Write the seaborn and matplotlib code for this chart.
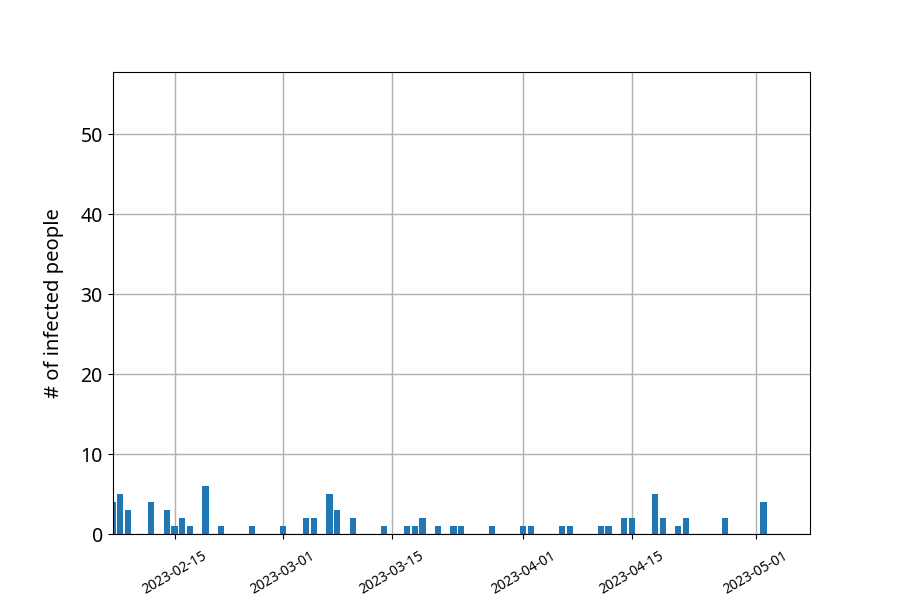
import pandas as pd
import matplotlib
matplotlib.use("Agg")
import matplotlib.pyplot as plt
import matplotlib.dates as mdates
import seaborn as sns

# daily infection counts (days with zero are left out)
dates = ['2023-02-07', '2023-02-08', '2023-02-09', '2023-02-12', '2023-02-14',
         '2023-02-15', '2023-02-16', '2023-02-17', '2023-02-19', '2023-02-21',
         '2023-02-25', '2023-03-01', '2023-03-04', '2023-03-05', '2023-03-07',
         '2023-03-08', '2023-03-10', '2023-03-14', '2023-03-17', '2023-03-18',
         '2023-03-19', '2023-03-21', '2023-03-23', '2023-03-24', '2023-03-28',
         '2023-04-01', '2023-04-02', '2023-04-06', '2023-04-07', '2023-04-11',
         '2023-04-12', '2023-04-14', '2023-04-15', '2023-04-18', '2023-04-19',
         '2023-04-21', '2023-04-22', '2023-04-27', '2023-05-02']
infected = [4, 5, 3, 4, 3,
            1, 2, 1, 6, 1,
            1, 1, 2, 2, 5,
            3, 2, 1, 1, 1,
            2, 1, 1, 1, 1,
            1, 1, 1, 1, 1,
            1, 2, 2, 5, 2,
            1, 2, 2, 4]

df = pd.DataFrame({'date': pd.to_datetime(dates), 'infected': infected})
df['day'] = mdates.date2num(df['date'])

plt.rcParams['font.family'] = ['Noto Sans', 'DejaVu Sans']

fig, ax = plt.subplots(figsize=(9, 6), dpi=100)

sns.histplot(data=df, x='day', weights='infected', discrete=True, shrink=0.8,
             color='#1f77b4', alpha=1, linewidth=0, ax=ax)

ax.set_xlim(mdates.date2num(pd.Timestamp('2023-02-07')),
            mdates.date2num(pd.Timestamp('2023-05-08')))
ax.set_ylim(0, 57.75)
ax.xaxis.set_major_locator(mdates.DayLocator(bymonthday=[1, 15]))
ax.xaxis.set_major_formatter(mdates.DateFormatter('%Y-%m-%d'))
plt.xticks(rotation=30, fontsize=10)
plt.yticks(fontsize=14)
ax.tick_params(axis='x', pad=7)
ax.grid(True, color='#b0b0b0', linewidth=1)
ax.set_axisbelow(True)
ax.set_xlabel('')
ax.set_ylabel('# of infected people', fontsize=14.5, labelpad=12)

plt.savefig('out.png', dpi=100)
